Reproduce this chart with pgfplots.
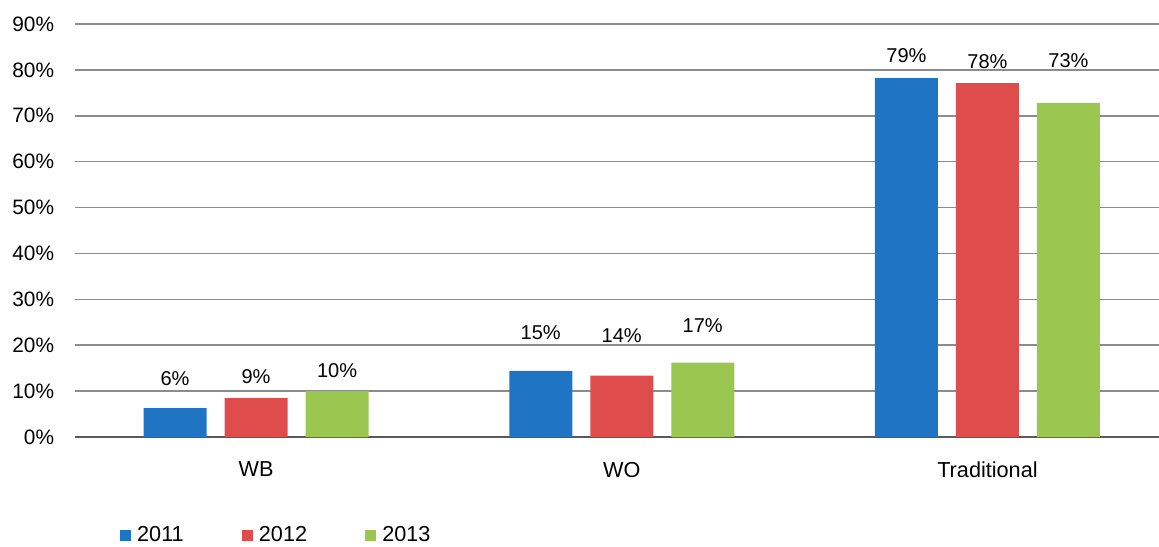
\documentclass[border=0pt]{standalone}
\usepackage{fontspec}
\setmainfont{Liberation Sans}
\usepackage{pgfplots}
\usepackage{pgfplotstable}
\pgfplotsset{compat=1.18}
\definecolor{cBlue}{RGB}{31,117,196}
\definecolor{cRed}{RGB}{223,76,76}
\definecolor{cGreen}{RGB}{155,198,80}
\pgfplotstableread{
x y label off
0 6.3 6 17.4
1 14.4 15 22.8
2 78.2 79 13.8
}\dataA
\pgfplotstableread{
x y label off
0 8.5 9 12.6
1 13.4 14 24.0
2 77.1 78 13.2
}\dataB
\pgfplotstableread{
x y label off
0 10.0 10 12.6
1 16.2 17 22.2
2 72.8 73 25.2
}\dataC
\begin{document}
\begin{tikzpicture}
\useasboundingbox (-45pt,-65.4pt) rectangle (650.4pt,262.2pt);
\begin{axis}[
  at={(0,0)}, anchor=south west,
  scale only axis,
  width=650.4pt, height=247.8pt,
  xmin=-0.495, xmax=2.469,
  ymin=0, ymax=90,
  ytick={0,10,...,90},
  yticklabel={\pgfmathprintnumber{\tick}\%},
  /pgf/number format/assume math mode=true,
  xtick=data,
  xticklabels={WB,WO,Traditional},
  major tick length=0pt,
  axis x line*=bottom,
  axis y line*=left,
  y axis line style={draw=none},
  x axis line style={black!65, line width=1.3pt},
  ymajorgrids,
  major grid style={black!45, line width=0.9pt},
  yticklabel style={font=\fontsize{12.5}{14}\selectfont, xshift=-9pt},
  xticklabel style={font=\fontsize{13}{15}\selectfont, yshift=-11.5pt},
  ybar=10.8pt, bar width=37.8pt,
  point meta=explicit symbolic,
  visualization depends on={\thisrow{off} \as \myoff},
  nodes near coords={\pgfplotspointmeta\%},
  every node near coord/.append style={font=\fontsize{12}{14}\selectfont, anchor=center, yshift=\myoff pt, text=black},
  legend style={at={(axis description cs:0.0415,-0.2373)}, anchor=west, draw=none, inner sep=0pt,
    font=\fontsize{13}{15}\selectfont, legend columns=3,
    /tikz/every even column/.append style={column sep=33pt},
    /tikz/every odd column/.append style={column sep=1.5pt}},
  legend image code/.code={\fill[#1] (0pt,-3.3pt) rectangle (6.6pt,3.3pt);},
]
\addplot[draw=none, fill=cBlue] table[x=x, y=y, meta=label] {\dataA};
\addplot[draw=none, fill=cRed] table[x=x, y=y, meta=label] {\dataB};
\addplot[draw=none, fill=cGreen] table[x=x, y=y, meta=label] {\dataC};
\legend{2011,2012,2013}
\end{axis}
\end{tikzpicture}
\end{document}
